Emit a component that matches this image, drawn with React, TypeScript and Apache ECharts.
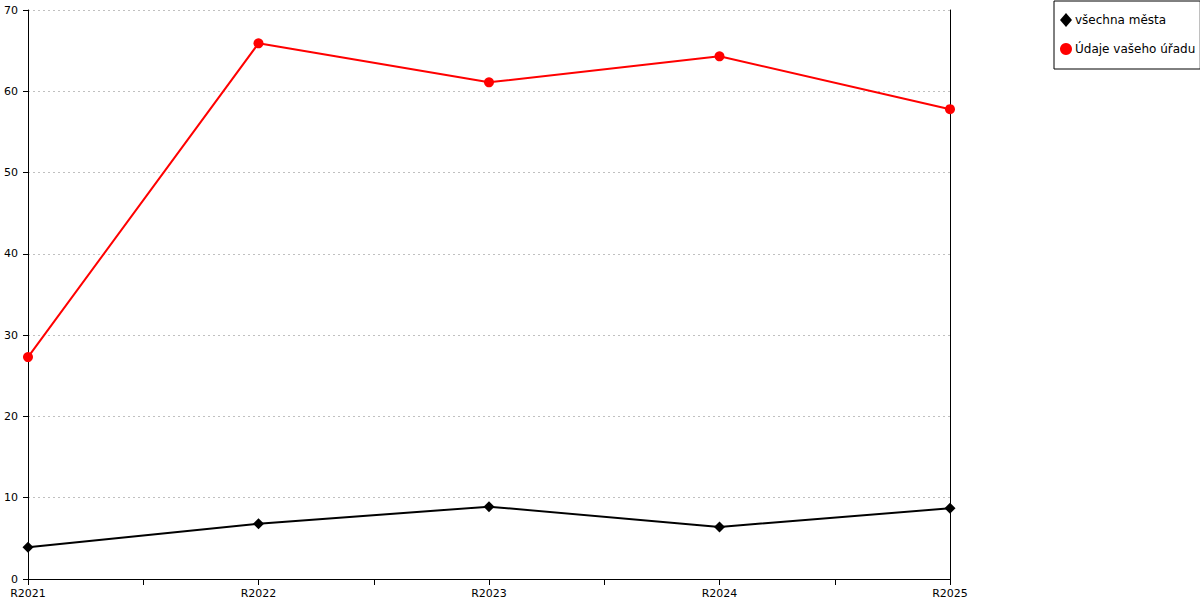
import React, { useEffect, useRef } from "react";
import * as echarts from "echarts";

const categories = ["R2021", "R2022", "R2023", "R2024", "R2025"];
const allCities = [3.9, 6.8, 8.9, 6.4, 8.7];
const yourOffice = [27.3, 65.9, 61.1, 64.3, 57.8];
const seriesNames = ["všechna města", "Údaje vašeho úřadu"];

export default function App() {
  const ref = useRef<HTMLDivElement>(null);
  useEffect(() => {
    if (!ref.current) return;
    const chart = echarts.init(ref.current, null, { renderer: "svg" });
    const font = "DejaVu Sans";
    chart.setOption({
      animation: false,
      textStyle: { fontFamily: font },
      grid: { left: 28, right: 250, top: 10, bottom: 21, containLabel: false },
      legend: {
        orient: "vertical",
        left: 1054,
        top: 1,
        padding: [12, 5, 14, 6],
        itemGap: 16,
        itemWidth: 12,
        itemHeight: 14,
        backgroundColor: "#fff",
        borderColor: "#000",
        borderWidth: 1,
        borderRadius: 0,
        textStyle: { fontFamily: font, fontSize: 12, color: "#000", padding: [0, 0, 0, -2] },
        data: [
          { name: seriesNames[0], icon: "diamond" },
          { name: seriesNames[1], icon: "circle" },
        ],
      },
      xAxis: {
        type: "value",
        min: 0,
        max: 4,
        interval: 0.5,
        axisLine: { show: true, lineStyle: { color: "#000", width: 1 } },
        axisTick: { show: true, length: 6, lineStyle: { color: "#000" } },
        axisLabel: {
          color: "#000",
          fontSize: 11,
          fontFamily: font,
          margin: 9,
          showMinLabel: true,
          showMaxLabel: true,
          formatter: (v: number) => (Number.isInteger(v) ? categories[v] : ""),
        },
        splitLine: { show: false },
      },
      yAxis: [
        {
          type: "value",
          min: 0,
          max: 70,
          interval: 10,
          axisLine: { show: true, lineStyle: { color: "#000", width: 1 } },
          axisTick: { show: true, length: 5, lineStyle: { color: "#000" } },
          axisLabel: { color: "#000", fontSize: 11, fontFamily: font, margin: 10 },
          splitLine: { show: true, lineStyle: { color: "#c0c0c0", type: [2, 3] } },
        },
        {
          type: "value",
          position: "right",
          min: 0,
          max: 70,
          interval: 10,
          axisLine: { show: true, lineStyle: { color: "#000", width: 1 } },
          axisTick: { show: false },
          axisLabel: { show: false },
          splitLine: { show: false },
        },
      ],
      series: [
        {
          name: seriesNames[0],
          type: "line",
          data: allCities.map((v, i) => [i, v]),
          symbol: "diamond",
          symbolSize: 11,
          lineStyle: { color: "#000", width: 2 },
          itemStyle: { color: "#000" },
          z: 3,
        },
        {
          name: seriesNames[1],
          type: "line",
          data: yourOffice.map((v, i) => [i, v]),
          symbol: "circle",
          symbolSize: 10,
          lineStyle: { color: "#ff0000", width: 2 },
          itemStyle: { color: "#ff0000" },
          z: 3,
        },
      ],
    });
    return () => chart.dispose();
  }, []);
  return <div ref={ref} style={{ width: 1200, height: 600, position: "absolute", left: 0, top: 0 }} />;
}
